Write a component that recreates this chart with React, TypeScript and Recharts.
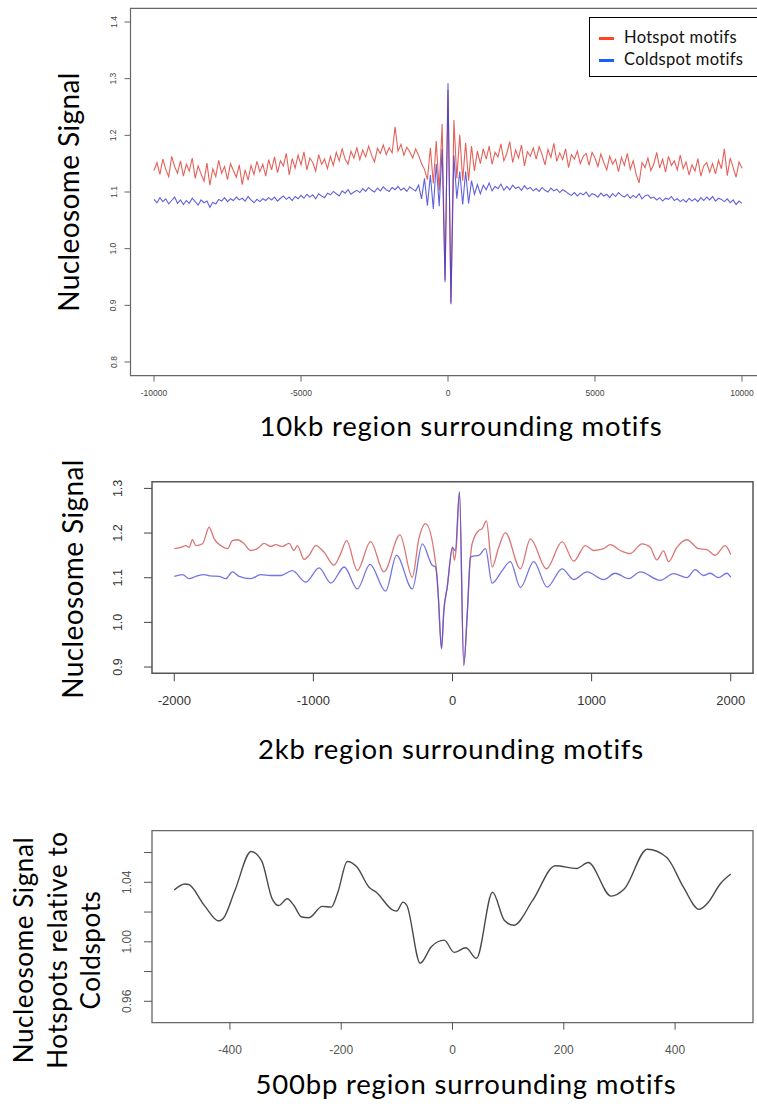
import React from "react";
import { LineChart, Line, XAxis, YAxis, ReferenceArea } from "recharts";

// 10kb window, one value every 100 bp from -10000 to 10000
const start10kb = -10000;
const step10kb = 100;

const hotspot10kb = [
  1.138, 1.152, 1.131, 1.158, 1.140, 1.127, 1.163, 1.145, 1.133, 1.155,
  1.128, 1.149, 1.137, 1.160, 1.124, 1.146, 1.132, 1.119, 1.151, 1.112,
  1.141, 1.127, 1.156, 1.133, 1.145, 1.122, 1.150, 1.138, 1.126, 1.148,
  1.113, 1.139, 1.121, 1.147, 1.131, 1.154, 1.136, 1.149, 1.128, 1.157,
  1.139, 1.162, 1.134, 1.155, 1.146, 1.168, 1.130, 1.159, 1.142, 1.165,
  1.148, 1.171, 1.139, 1.160, 1.152, 1.137, 1.166, 1.149, 1.158, 1.141,
  1.163, 1.147, 1.170, 1.155, 1.176, 1.158, 1.149, 1.172, 1.160, 1.178,
  1.157, 1.174, 1.162, 1.181, 1.165, 1.153, 1.177, 1.168, 1.183, 1.166,
  1.178, 1.169, 1.215, 1.172, 1.184, 1.165, 1.179, 1.171, 1.160, 1.176,
  1.165, 1.150, 1.140, 1.122, 1.178, 1.115, 1.190, 1.103, 1.220, 0.945,
  1.280, 0.905, 1.227, 1.124, 1.201, 1.120, 1.187, 1.120, 1.181, 1.137,
  1.172, 1.150, 1.176, 1.158, 1.181, 1.149, 1.170, 1.162, 1.185, 1.155,
  1.168, 1.189, 1.152, 1.174, 1.160, 1.183, 1.146, 1.171, 1.163, 1.178,
  1.158, 1.180, 1.166, 1.148, 1.175, 1.161, 1.186, 1.154, 1.169, 1.157,
  1.176, 1.143, 1.166, 1.158, 1.172, 1.150, 1.163, 1.168, 1.147, 1.170,
  1.160, 1.145, 1.167, 1.152, 1.139, 1.163, 1.149, 1.158, 1.136, 1.161,
  1.147, 1.168, 1.140, 1.155, 1.131, 1.116, 1.152, 1.143, 1.160, 1.138,
  1.149, 1.170, 1.142, 1.158, 1.135, 1.163, 1.147, 1.155, 1.139, 1.165,
  1.141, 1.153, 1.130, 1.148, 1.137, 1.159, 1.128, 1.146, 1.152, 1.135,
  1.150, 1.132, 1.156, 1.141, 1.176, 1.129, 1.160, 1.143, 1.126, 1.153,
  1.142,
];

const coldspot10kb = [
  1.087, 1.081, 1.090, 1.083, 1.088, 1.079, 1.085, 1.091, 1.080, 1.086,
  1.078, 1.085, 1.080, 1.089, 1.083, 1.077, 1.086, 1.081, 1.084, 1.073,
  1.082, 1.079, 1.087, 1.084, 1.090, 1.083, 1.088, 1.085, 1.091, 1.086,
  1.089, 1.084, 1.092, 1.086, 1.081, 1.087, 1.083, 1.088, 1.085, 1.090,
  1.086, 1.091, 1.084, 1.089, 1.093, 1.087, 1.091, 1.085, 1.092, 1.088,
  1.094, 1.089, 1.096, 1.091, 1.095, 1.088, 1.097, 1.093, 1.090, 1.098,
  1.095, 1.101, 1.097, 1.093, 1.102, 1.098, 1.104, 1.096, 1.100, 1.103,
  1.099, 1.106, 1.101, 1.108, 1.103, 1.100, 1.107, 1.102, 1.109, 1.104,
  1.101, 1.108, 1.104, 1.110, 1.103, 1.107, 1.101, 1.109, 1.105, 1.102,
  1.112, 1.088, 1.124, 1.076, 1.130, 1.070, 1.150, 1.075, 1.176, 0.941,
  1.292, 0.902, 1.165, 1.088, 1.136, 1.078, 1.136, 1.080, 1.120, 1.096,
  1.113, 1.097, 1.112, 1.104, 1.116, 1.102, 1.110, 1.106, 1.114, 1.103,
  1.110, 1.104, 1.112, 1.106, 1.109, 1.103, 1.111, 1.105, 1.108, 1.102,
  1.106, 1.101, 1.108, 1.103, 1.100, 1.107, 1.102, 1.105, 1.099, 1.104,
  1.101, 1.097, 1.094, 1.099, 1.093, 1.098, 1.095, 1.100, 1.092, 1.097,
  1.095, 1.091, 1.098, 1.093, 1.096, 1.090, 1.097, 1.092, 1.099, 1.094,
  1.091, 1.096, 1.089, 1.094, 1.090, 1.097, 1.088, 1.093, 1.095, 1.089,
  1.091, 1.086, 1.090, 1.084, 1.089, 1.087, 1.092, 1.085, 1.088, 1.083,
  1.087, 1.082, 1.089, 1.084, 1.088, 1.083, 1.090, 1.085, 1.091, 1.086,
  1.092, 1.084, 1.089, 1.087, 1.083, 1.088, 1.081, 1.086, 1.078, 1.084,
  1.080,
];

// 2kb window
const hotspot2kbPos = [
  -2000, -1953, -1917, -1893, -1869, -1845, -1797, -1749, -1713, -1665,
  -1617, -1582, -1546, -1498, -1450, -1402, -1355, -1307, -1271, -1223,
  -1175, -1139, -1115, -1067, -1031, -983, -923, -852, -804, -761,
  -684, -589, -493, -378, -289, -242, -194, -134, -110, -79,
  -62, -38, 0, 14, 28, 50, 81, 106, 129, 141,
  189, 213, 244, 285, 332, 380, 488, 560, 675, 788,
  871, 955, 1015, 1086, 1134, 1206, 1278, 1362, 1421, 1469,
  1517, 1553, 1613, 1685, 1768, 1828, 1888, 1960, 2000,
];
const hotspot2kbSignal = [
  1.165, 1.168, 1.172, 1.168, 1.185, 1.172, 1.176, 1.213, 1.187, 1.172,
  1.165, 1.183, 1.185, 1.176, 1.161, 1.165, 1.177, 1.170, 1.174, 1.170,
  1.177, 1.161, 1.172, 1.141, 1.150, 1.172, 1.157, 1.128, 1.154, 1.183,
  1.116, 1.181, 1.113, 1.196, 1.101, 1.187, 1.221, 1.161, 1.100, 0.941,
  1.027, 1.079, 1.168, 1.139, 1.170, 1.292, 0.904, 1.019, 1.146, 1.176,
  1.206, 1.210, 1.227, 1.124, 1.168, 1.201, 1.120, 1.187, 1.120, 1.181,
  1.137, 1.172, 1.161, 1.165, 1.174, 1.161, 1.154, 1.176, 1.168, 1.140,
  1.160, 1.136, 1.168, 1.185, 1.165, 1.163, 1.150, 1.172, 1.152,
];

const coldspot2kbPos = [
  -2000, -1940, -1893, -1845, -1786, -1738, -1678, -1630, -1582, -1534,
  -1450, -1378, -1307, -1235, -1151, -1055, -959, -874, -778, -684,
  -593, -481, -402, -289, -217, -146, -122, -100, -79, -62,
  -38, 0, 20, 50, 81, 106, 129, 141, 189, 237,
  285, 357, 416, 488, 584, 680, 788, 871, 967, 1086,
  1170, 1266, 1350, 1493, 1589, 1685, 1744, 1804, 1852, 1912,
  1972, 2000,
];
const coldspot2kbSignal = [
  1.103, 1.107, 1.098, 1.103, 1.107, 1.104, 1.103, 1.098, 1.113, 1.103,
  1.098, 1.107, 1.105, 1.105, 1.116, 1.090, 1.122, 1.088, 1.124, 1.075,
  1.130, 1.070, 1.150, 1.075, 1.176, 1.128, 1.124, 1.050, 0.941, 1.027,
  1.079, 1.168, 1.160, 1.292, 0.904, 1.019, 1.146, 1.148, 1.150, 1.165,
  1.088, 1.116, 1.136, 1.078, 1.136, 1.079, 1.120, 1.096, 1.113, 1.096,
  1.110, 1.098, 1.113, 1.094, 1.109, 1.100, 1.118, 1.105, 1.110, 1.100,
  1.110, 1.101,
];

// 500bp window, hotspot / coldspot ratio
const ratioPos = [
  -500, -481, -474, -446, -420, -412, -391, -362, -343, -324,
  -312, -297, -285, -271, -258, -234, -218, -206, -189, -172,
  -150, -137, -106, -100, -89, -82, -58, -38, -15, 3,
  24, 43, 72, 93, 110, 144, 185, 223, 244, 285,
  309, 350, 385, 415, 443, 460, 481, 500,
];
const ratioSignal = [
  1.0349, 1.0389, 1.0385, 1.0245, 1.0140, 1.0156, 1.0345, 1.0607, 1.0544, 1.0289,
  1.0244, 1.0289, 1.0244, 1.0167, 1.0162, 1.0238, 1.0233, 1.0333, 1.0540, 1.0504,
  1.0367, 1.0333, 1.0211, 1.0207, 1.0267, 1.0244, 0.9856, 0.9967, 1.0011, 0.9929,
  0.9960, 0.9889, 1.0333, 1.0145, 1.0111, 1.0278, 1.0511, 1.0493, 1.0533, 1.0307,
  1.0356, 1.0622, 1.0567, 1.0367, 1.0218, 1.0267, 1.0389, 1.0456,
];

const ticks10kbX = [-10000, -5000, 0, 5000, 10000];
const ticks10kbY = [0.8, 0.9, 1.0, 1.1, 1.2, 1.3, 1.4];
const ticks2kbX = [-2000, -1000, 0, 1000, 2000];
const ticks2kbY = [0.9, 1.0, 1.1, 1.2, 1.3];
const ticks500X = [-400, -200, 0, 200, 400];
const ticks500Y = [0.96, 0.98, 1.0, 1.02, 1.04, 1.06];
const labels500Y = [0.96, 1.0, 1.04];

const seriesNames = ["Hotspot motifs", "Coldspot motifs"];
const legendColors = ["#ff4422", "#1f5cff"];

const data10kb = hotspot10kb.map((v, i) => ({
  pos: start10kb + i * step10kb,
  hot: v,
  cold: coldspot10kb[i],
}));
const zip = (pos: number[], vals: number[]) =>
  pos.map((p, i) => ({ pos: p, value: vals[i] }));
const hot2kb = zip(hotspot2kbPos, hotspot2kbSignal);
const cold2kb = zip(coldspot2kbPos, coldspot2kbSignal);
const ratio500 = zip(ratioPos, ratioSignal);

const tickFont = "'Liberation Sans', Arial, sans-serif";
const titleFont = "Lato, 'Open Sans', sans-serif";

const XTick = ({ x, y, payload, size, fill }: any) => (
  <text
    x={x}
    y={y}
    textAnchor="middle"
    dominantBaseline="central"
    fontSize={size}
    fill={fill}
    fontFamily={tickFont}
  >
    {payload.value}
  </text>
);

// R-style y labels, turned to read bottom to top
const YTick = ({ x, y, payload, size, fill, digits, only }: any) => {
  if (only && !only.some((v: number) => Math.abs(v - payload.value) < 1e-9)) return <g />;
  return (
    <text
      x={x}
      y={y}
      transform={`rotate(-90 ${x} ${y})`}
      textAnchor="middle"
      dominantBaseline="central"
      fontSize={size}
      fill={fill}
      fontFamily={tickFont}
    >
      {Number(payload.value).toFixed(digits)}
    </text>
  );
};

const Title = ({ cx, cy, size, rotate, children, lineHeight, spacing }: any) => (
  <div
    style={{
      position: "absolute",
      left: cx,
      top: cy,
      transform: `translate(-50%, -50%)${rotate ? " rotate(-90deg)" : ""}`,
      whiteSpace: "nowrap",
      fontFamily: titleFont,
      fontWeight: 400,
      fontSize: size,
      letterSpacing: spacing ?? 1,
      lineHeight: lineHeight ? `${lineHeight}px` : "normal",
      textAlign: "center",
      color: "#000",
    }}
  >
    {children}
  </div>
);

const Panel10kb = () => (
  <div style={{ position: "absolute", left: 0, top: 0 }}>
    <LineChart
      width={770}
      height={420}
      data={data10kb}
      margin={{ top: 8.4, right: 4.5, bottom: 14.4, left: 0 }}
    >
      <XAxis
        type="number"
        dataKey="pos"
        domain={[-10800, 10800]}
        ticks={ticks10kbX}
        interval={0}
        height={30}
        axisLine={false}
        tickSize={6}
        tickMargin={11}
        tickLine={{ stroke: "#666" }}
        tick={(p: any) => <XTick {...p} size={8.5} fill="#444" />}
        allowDataOverflow
      />
      <YAxis
        type="number"
        domain={[0.776, 1.424]}
        ticks={ticks10kbY}
        interval={0}
        width={130.5}
        axisLine={false}
        tickSize={6}
        tickMargin={11}
        tickLine={{ stroke: "#666" }}
        tick={(p: any) => <YTick {...p} size={8.5} fill="#444" digits={1} />}
        allowDataOverflow
      />
      <ReferenceArea
        x1={-10800}
        x2={10800}
        y1={0.776}
        y2={1.424}
        fill="none"
        stroke="#666"
        strokeWidth={1.2}
      />
      <Line
        type="linear"
        dataKey="hot"
        stroke="#dd3a30"
        strokeOpacity={0.8}
        strokeWidth={1.1}
        dot={false}
        isAnimationActive={false}
      />
      <Line
        type="linear"
        dataKey="cold"
        stroke="#3a3ad6"
        strokeOpacity={0.8}
        strokeWidth={1.1}
        dot={false}
        isAnimationActive={false}
      />
    </LineChart>
  </div>
);

const Panel2kb = () => (
  <div style={{ position: "absolute", left: 0, top: 460 }}>
    <LineChart
      width={757}
      height={260}
      margin={{ top: 21.7, right: 4, bottom: 16.7, left: 0 }}
    >
      <XAxis
        type="number"
        dataKey="pos"
        domain={[-2160, 2160]}
        ticks={ticks2kbX}
        interval={0}
        height={30}
        axisLine={false}
        tickSize={8}
        tickMargin={18.7}
        tickLine={{ stroke: "#444" }}
        tick={(p: any) => <XTick {...p} size={13} fill="#333" />}
        allowDataOverflow
      />
      <YAxis
        type="number"
        domain={[0.886, 1.315]}
        ticks={ticks2kbY}
        interval={0}
        width={152}
        axisLine={false}
        tickSize={8}
        tickMargin={25.7}
        tickLine={{ stroke: "#444" }}
        tick={(p: any) => <YTick {...p} size={12.5} fill="#333" digits={1} />}
        allowDataOverflow
      />
      <ReferenceArea
        x1={-2160}
        x2={2160}
        y1={0.886}
        y2={1.315}
        fill="none"
        stroke="#555"
        strokeWidth={1.5}
      />
      <Line
        data={hot2kb}
        type="monotone"
        dataKey="value"
        stroke="#d45e5e"
        strokeOpacity={0.85}
        strokeWidth={1.3}
        dot={false}
        isAnimationActive={false}
      />
      <Line
        data={cold2kb}
        type="monotone"
        dataKey="value"
        stroke="#5050dc"
        strokeOpacity={0.8}
        strokeWidth={1.3}
        dot={false}
        isAnimationActive={false}
      />
    </LineChart>
  </div>
);

const Panel500 = () => (
  <div style={{ position: "absolute", left: 0, top: 800 }}>
    <LineChart
      width={757}
      height={260}
      margin={{ top: 30.7, right: 4, bottom: 7.3, left: 0 }}
    >
      <XAxis
        type="number"
        dataKey="pos"
        domain={[-540, 540]}
        ticks={ticks500X}
        interval={0}
        height={30}
        axisLine={false}
        tickSize={7}
        tickMargin={20}
        tickLine={{ stroke: "#555" }}
        tick={(p: any) => <XTick {...p} size={12} fill="#555" />}
        allowDataOverflow
      />
      <YAxis
        type="number"
        domain={[0.9456, 1.0747]}
        ticks={ticks500Y}
        interval={0}
        width={152}
        axisLine={false}
        tickSize={8}
        tickMargin={17}
        tickLine={{ stroke: "#555" }}
        tick={(p: any) => (
          <YTick {...p} size={12} fill="#555" digits={2} only={labels500Y} />
        )}
        allowDataOverflow
      />
      <ReferenceArea
        x1={-540}
        x2={540}
        y1={0.9456}
        y2={1.0747}
        fill="none"
        stroke="#666"
        strokeWidth={1.3}
      />
      <Line
        data={ratio500}
        type="monotone"
        dataKey="value"
        stroke="#4a4a4a"
        strokeWidth={1.4}
        dot={false}
        isAnimationActive={false}
      />
    </LineChart>
  </div>
);

const LegendBox = () => (
  <div
    style={{
      position: "absolute",
      left: 589,
      top: 17,
      width: 180,
      height: 60,
      border: "1px solid #000",
      boxSizing: "border-box",
      background: "#fff",
      fontFamily: titleFont,
      fontWeight: 400,
      fontSize: 16.5,
      letterSpacing: 0.3,
      color: "#111",
    }}
  >
    {seriesNames.map((name, i) => (
      <div
        key={name}
        style={{ position: "absolute", left: 0, top: 8 + i * 22, height: 22, width: 180 }}
      >
        <div
          style={{
            position: "absolute",
            left: 9,
            top: 11,
            width: 15,
            height: 3,
            background: legendColors[i],
          }}
        />
        <div style={{ position: "absolute", left: 34, top: 1, lineHeight: "20px" }}>
          {name}
        </div>
      </div>
    ))}
  </div>
);

export default function App() {
  return (
    <div
      style={{
        position: "absolute",
        left: 0,
        top: 0,
        width: 757,
        height: 1104,
        overflow: "hidden",
        background: "#fff",
      }}
    >
      <Panel10kb />
      <Panel2kb />
      <Panel500 />
      <LegendBox />
      <Title cx={68} cy={192} size={28} rotate spacing={0.4}>
        Nucleosome Signal
      </Title>
      <Title cx={461} cy={425} size={27.5} spacing={0.8}>
        10kb region surrounding motifs
      </Title>
      <Title cx={72} cy={579} size={28} rotate spacing={0.4}>
        Nucleosome Signal
      </Title>
      <Title cx={451} cy={748} size={27.5} spacing={0.8}>
        2kb region surrounding motifs
      </Title>
      <Title cx={57} cy={950} size={26} rotate lineHeight={33.5} spacing={0.6}>
        Nucleosome Signal
        <br />
        Hotspots relative to
        <br />
        Coldspots
      </Title>
      <Title cx={466} cy={1083} size={27.5} spacing={0.8}>
        500bp region surrounding motifs
      </Title>
    </div>
  );
}
